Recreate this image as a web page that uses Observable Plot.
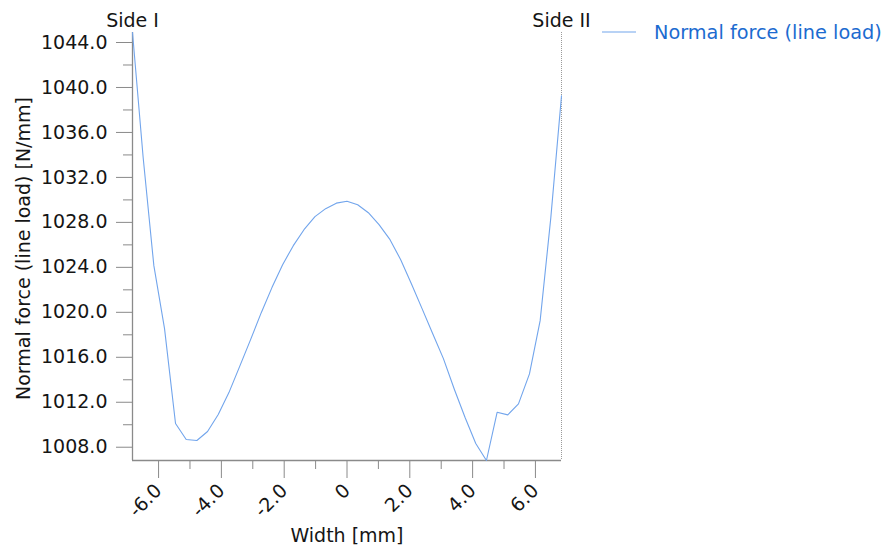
<!DOCTYPE html>
<html>
<head>
<meta charset="utf-8">
<script src="https://cdn.jsdelivr.net/npm/d3@7"></script>
<script src="https://cdn.jsdelivr.net/npm/@observablehq/plot@0.6"></script>
<style>
  html, body { margin: 0; padding: 0; background: #fff; }
  #wrap { position: relative; width: 888px; height: 548px; overflow: hidden; }
  #legend { position: absolute; left: 602px; top: 18px; font-family: "DejaVu Sans", sans-serif; font-size: 19.3px; color: #1c6bd0; white-space: nowrap; }
  #legend svg { position: absolute; left: 0; top: 0; }
  #legend span { position: absolute; left: 52px; top: 3px; }
</style>
</head>
<body>
<div id="wrap">
  <div id="chart"></div>
  <div id="legend"></div>
</div>
<script>
// Width positions [mm]
const widthMm = [-6.83, -6.49, -6.15, -5.81, -5.46, -5.12, -4.78, -4.44, -4.10, -3.76,
                 -3.42, -3.07, -2.73, -2.39, -2.05, -1.71, -1.37, -1.02, -0.68, -0.34,
                  0.00,  0.34,  0.68,  1.02,  1.37,  1.71,  2.05,  2.39,  2.73,  3.07,
                  3.42,  3.76,  4.10,  4.44,  4.78,  5.12,  5.46,  5.81,  6.15,  6.49, 6.83];
// Normal force (line load) [N/mm]
const normalForce = [1044.89, 1033.75, 1024.15, 1018.55, 1010.11, 1008.69, 1008.60, 1009.40, 1010.91, 1012.86,
                     1015.17, 1017.57, 1019.97, 1022.20, 1024.24, 1025.93, 1027.35, 1028.51, 1029.22, 1029.71,
                     1029.88, 1029.57, 1028.86, 1027.80, 1026.46, 1024.68, 1022.55, 1020.33, 1018.10, 1015.88,
                     1013.14, 1010.64, 1008.33, 1006.82, 1011.11, 1010.88, 1011.86, 1014.52, 1019.26, 1028.42, 1039.26];

const xMajorTicks = [-6, -4, -2, 0, 2, 4, 6];
const xTickLabels = ["-6.0", "-4.0", "-2.0", "0", "2.0", "4.0", "6.0"];
const xMinorTicks = [-5, -3, -1, 1, 3, 5];
const yMajorTicks = [1008, 1012, 1016, 1020, 1024, 1028, 1032, 1036, 1040, 1044];
const yTickLabels = ["1008.0", "1012.0", "1016.0", "1020.0", "1024.0", "1028.0", "1032.0", "1036.0", "1040.0", "1044.0"];
const yMinorTicks = [1010, 1014, 1018, 1022, 1026, 1030, 1034, 1038, 1042];

const seriesName = "Normal force (line load)";
const yLabel = "Normal force (line load) [N/mm]";
const xLabel = "Width [mm]";
const sideLabels = ["Side I", "Side II"];

const lineColor = "#72a5ec";
const axisColor = "#8a8a8a";
const textColor = "#151515";

const data = widthMm.map((x, i) => ({x, y: normalForce[i]}));
const xDomain = [widthMm[0], widthMm[widthMm.length - 1]];
const yDomain = d3.extent(normalForce);

const chart = Plot.plot({
  width: 888,
  height: 548,
  marginLeft: 132,
  marginRight: 327,
  marginTop: 32,
  marginBottom: 88,
  style: {fontFamily: "DejaVu Sans, sans-serif", fontSize: "19px", background: "#fff", color: textColor},
  x: {domain: xDomain, label: null},
  y: {domain: yDomain, label: null},
  marks: [
    Plot.axisX(xMajorTicks, {tickSize: 18, tickPadding: 9, tickRotate: -45, stroke: axisColor, fill: textColor,
      tickFormat: d => xTickLabels[xMajorTicks.indexOf(d)], label: null, fontSize: 19}),
    Plot.axisX(xMinorTicks, {tickSize: 9, stroke: axisColor, tickFormat: () => "", label: null}),
    Plot.axisY(yMajorTicks, {tickSize: 16, tickPadding: 9, stroke: axisColor, fill: textColor,
      tickFormat: d => yTickLabels[yMajorTicks.indexOf(d)], label: null, fontSize: 19}),
    Plot.axisY(yMinorTicks, {tickSize: 9, stroke: axisColor, tickFormat: () => "", label: null}),
    Plot.ruleX([xDomain[0]], {stroke: axisColor, strokeWidth: 1.3}),
    Plot.ruleY([yDomain[0]], {stroke: axisColor, strokeWidth: 1.3}),
    Plot.ruleX([xDomain[1]], {stroke: "#9a9a9a", strokeWidth: 1, strokeDasharray: "1,1"}),
    Plot.line(data, {x: "x", y: "y", stroke: lineColor, strokeWidth: 1.1}),
    Plot.text([sideLabels[0]], {x: xDomain[0], frameAnchor: "top", lineAnchor: "bottom", dy: -6, fill: textColor, fontSize: 19, text: d => d}),
    Plot.text([sideLabels[1]], {x: xDomain[1], frameAnchor: "top", lineAnchor: "bottom", dy: -6, fill: textColor, fontSize: 19, text: d => d}),
    Plot.text([xLabel], {frameAnchor: "bottom", lineAnchor: "bottom", dy: 81, fill: textColor, fontSize: 19, text: d => d}),
    Plot.text([yLabel], {frameAnchor: "left", textAnchor: "middle", rotate: -90, dx: -109, dy: 2, fill: textColor, fontSize: 19, text: d => d})
  ]
});
document.getElementById("chart").appendChild(chart);

const legend = document.getElementById("legend");
legend.innerHTML = `<svg width="40" height="30"><line x1="0" y1="14" x2="34" y2="14" stroke="${lineColor}" stroke-width="1.1"/></svg><span></span>`;
legend.querySelector("span").textContent = seriesName;
</script>
</body>
</html>
